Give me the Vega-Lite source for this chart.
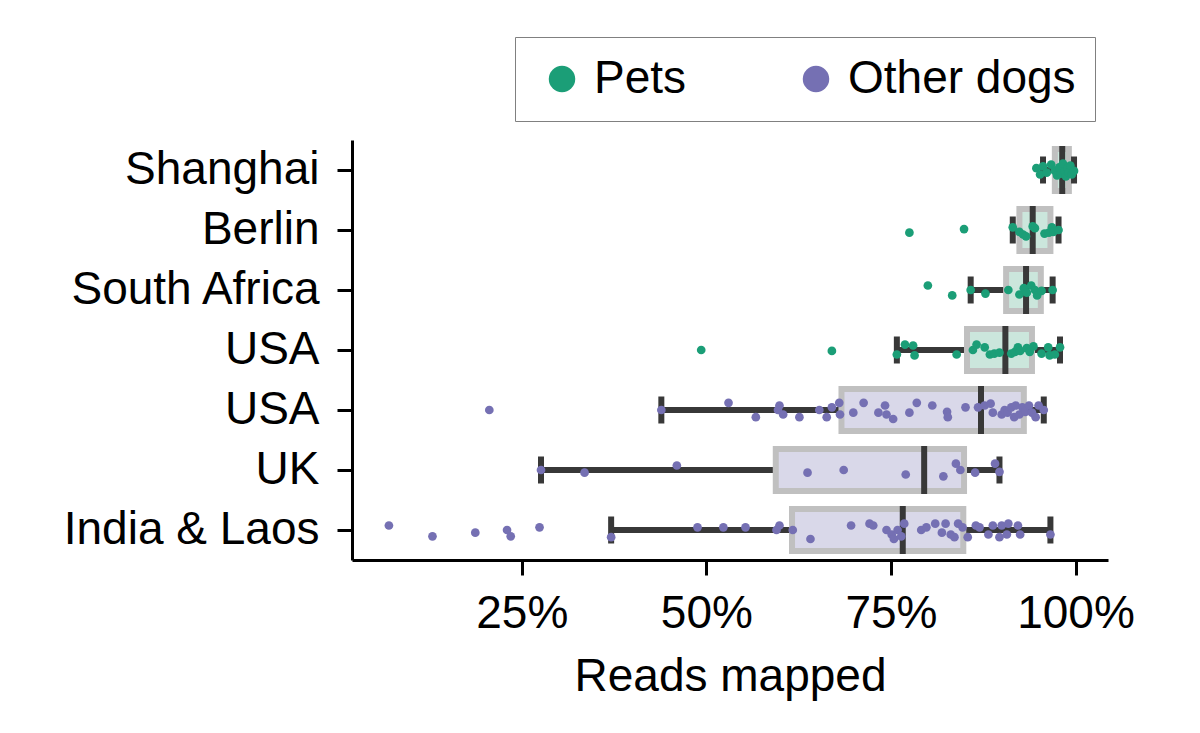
{
  "$schema": "https://vega.github.io/schema/vega-lite/v6.json",
  "width": 756,
  "height": 420,
  "autosize": {"type": "none"},
  "padding": {"left": 352, "top": 140, "right": 92, "bottom": 173},
  "background": "white",
  "config": {
    "view": {"stroke": null},
    "font": "Liberation Sans",
    "axis": {
      "domainColor": "#000000",
      "domainWidth": 3,
      "tickColor": "#000000",
      "tickWidth": 3,
      "tickSize": 15,
      "labelFont": "Liberation Sans",
      "labelFontSize": 46,
      "labelColor": "#000000",
      "labelLimit": 0,
      "titleFont": "Liberation Sans",
      "titleFontSize": 46,
      "titleFontWeight": "normal",
      "titleColor": "#000000",
      "grid": false
    },
    "legend": {
      "labelFont": "Liberation Sans",
      "labelFontSize": 46,
      "labelColor": "#000000",
      "labelLimit": 0
    }
  },
  "datasets": {
    "box": [
      {"group": "Shanghai", "type": "Pets", "lo": 0.956, "q1": 0.972, "med": 0.982, "q3": 0.991, "hi": 0.998},
      {"group": "Berlin", "type": "Pets", "lo": 0.915, "q1": 0.924, "med": 0.942, "q3": 0.966, "hi": 0.977},
      {"group": "South Africa", "type": "Pets", "lo": 0.858, "q1": 0.906, "med": 0.933, "q3": 0.953, "hi": 0.969},
      {"group": "USA (pets)", "type": "Pets", "lo": 0.758, "q1": 0.853, "med": 0.905, "q3": 0.941, "hi": 0.979},
      {"group": "USA", "type": "Other dogs", "lo": 0.439, "q1": 0.683, "med": 0.872, "q3": 0.930, "hi": 0.957},
      {"group": "UK", "type": "Other dogs", "lo": 0.276, "q1": 0.594, "med": 0.795, "q3": 0.849, "hi": 0.897},
      {"group": "India & Laos", "type": "Other dogs", "lo": 0.371, "q1": 0.616, "med": 0.766, "q3": 0.848, "hi": 0.966}
    ],
    "pts": [
      {"group": "Shanghai", "type": "Pets", "v": 0.947, "j": -0.2},
      {"group": "Shanghai", "type": "Pets", "v": 0.952, "j": 0.5},
      {"group": "Shanghai", "type": "Pets", "v": 0.956, "j": -0.4},
      {"group": "Shanghai", "type": "Pets", "v": 0.961, "j": 0.3},
      {"group": "Shanghai", "type": "Pets", "v": 0.967, "j": -0.6},
      {"group": "Shanghai", "type": "Pets", "v": 0.972, "j": 0.1},
      {"group": "Shanghai", "type": "Pets", "v": 0.975, "j": 0.6},
      {"group": "Shanghai", "type": "Pets", "v": 0.978, "j": -0.3},
      {"group": "Shanghai", "type": "Pets", "v": 0.980, "j": 0.4},
      {"group": "Shanghai", "type": "Pets", "v": 0.983, "j": -0.7},
      {"group": "Shanghai", "type": "Pets", "v": 0.985, "j": 0.2},
      {"group": "Shanghai", "type": "Pets", "v": 0.987, "j": 0.7},
      {"group": "Shanghai", "type": "Pets", "v": 0.989, "j": -0.2},
      {"group": "Shanghai", "type": "Pets", "v": 0.991, "j": 0.3},
      {"group": "Shanghai", "type": "Pets", "v": 0.993, "j": -0.5},
      {"group": "Shanghai", "type": "Pets", "v": 0.995, "j": 0.5},
      {"group": "Shanghai", "type": "Pets", "v": 0.998, "j": 0.1},
      {"group": "Berlin", "type": "Pets", "v": 0.775, "j": 0.3},
      {"group": "Berlin", "type": "Pets", "v": 0.849, "j": -0.1},
      {"group": "Berlin", "type": "Pets", "v": 0.915, "j": -0.3},
      {"group": "Berlin", "type": "Pets", "v": 0.924, "j": 0.2},
      {"group": "Berlin", "type": "Pets", "v": 0.929, "j": 0.5},
      {"group": "Berlin", "type": "Pets", "v": 0.933, "j": 0.7},
      {"group": "Berlin", "type": "Pets", "v": 0.942, "j": -0.4},
      {"group": "Berlin", "type": "Pets", "v": 0.945, "j": -0.2},
      {"group": "Berlin", "type": "Pets", "v": 0.958, "j": 0.4},
      {"group": "Berlin", "type": "Pets", "v": 0.964, "j": 0.3},
      {"group": "Berlin", "type": "Pets", "v": 0.968, "j": -0.3},
      {"group": "Berlin", "type": "Pets", "v": 0.970, "j": 0.2},
      {"group": "Berlin", "type": "Pets", "v": 0.977, "j": 0.0},
      {"group": "South Africa", "type": "Pets", "v": 0.800, "j": -0.5},
      {"group": "South Africa", "type": "Pets", "v": 0.833, "j": 0.6},
      {"group": "South Africa", "type": "Pets", "v": 0.858, "j": 0.0},
      {"group": "South Africa", "type": "Pets", "v": 0.878, "j": 0.4},
      {"group": "South Africa", "type": "Pets", "v": 0.909, "j": 0.0},
      {"group": "South Africa", "type": "Pets", "v": 0.924, "j": 0.5},
      {"group": "South Africa", "type": "Pets", "v": 0.930, "j": -0.2},
      {"group": "South Africa", "type": "Pets", "v": 0.934, "j": 0.3},
      {"group": "South Africa", "type": "Pets", "v": 0.940, "j": -0.5},
      {"group": "South Africa", "type": "Pets", "v": 0.945, "j": 0.0},
      {"group": "South Africa", "type": "Pets", "v": 0.948, "j": 0.6},
      {"group": "South Africa", "type": "Pets", "v": 0.954, "j": 0.1},
      {"group": "South Africa", "type": "Pets", "v": 0.969, "j": 0.0},
      {"group": "USA (pets)", "type": "Pets", "v": 0.493, "j": 0.0},
      {"group": "USA (pets)", "type": "Pets", "v": 0.670, "j": 0.1},
      {"group": "USA (pets)", "type": "Pets", "v": 0.758, "j": 0.5},
      {"group": "USA (pets)", "type": "Pets", "v": 0.769, "j": -0.6},
      {"group": "USA (pets)", "type": "Pets", "v": 0.780, "j": -0.5},
      {"group": "USA (pets)", "type": "Pets", "v": 0.782, "j": 0.6},
      {"group": "USA (pets)", "type": "Pets", "v": 0.839, "j": 0.5},
      {"group": "USA (pets)", "type": "Pets", "v": 0.861, "j": 0.0},
      {"group": "USA (pets)", "type": "Pets", "v": 0.866, "j": -0.6},
      {"group": "USA (pets)", "type": "Pets", "v": 0.877, "j": -0.3},
      {"group": "USA (pets)", "type": "Pets", "v": 0.884, "j": 0.5},
      {"group": "USA (pets)", "type": "Pets", "v": 0.890, "j": 0.4},
      {"group": "USA (pets)", "type": "Pets", "v": 0.897, "j": 0.3},
      {"group": "USA (pets)", "type": "Pets", "v": 0.913, "j": 0.4},
      {"group": "USA (pets)", "type": "Pets", "v": 0.918, "j": 0.2},
      {"group": "USA (pets)", "type": "Pets", "v": 0.922, "j": -0.3},
      {"group": "USA (pets)", "type": "Pets", "v": 0.925, "j": 0.1},
      {"group": "USA (pets)", "type": "Pets", "v": 0.934, "j": -0.2},
      {"group": "USA (pets)", "type": "Pets", "v": 0.938, "j": 0.2},
      {"group": "USA (pets)", "type": "Pets", "v": 0.943, "j": -0.4},
      {"group": "USA (pets)", "type": "Pets", "v": 0.954, "j": 0.4},
      {"group": "USA (pets)", "type": "Pets", "v": 0.963, "j": -0.3},
      {"group": "USA (pets)", "type": "Pets", "v": 0.965, "j": 0.6},
      {"group": "USA (pets)", "type": "Pets", "v": 0.972, "j": 0.5},
      {"group": "USA (pets)", "type": "Pets", "v": 0.979, "j": -0.3},
      {"group": "USA", "type": "Other dogs", "v": 0.206, "j": 0.0},
      {"group": "USA", "type": "Other dogs", "v": 0.439, "j": 0.0},
      {"group": "USA", "type": "Other dogs", "v": 0.530, "j": -0.8},
      {"group": "USA", "type": "Other dogs", "v": 0.567, "j": 0.8},
      {"group": "USA", "type": "Other dogs", "v": 0.597, "j": 0.0},
      {"group": "USA", "type": "Other dogs", "v": 0.599, "j": -0.5},
      {"group": "USA", "type": "Other dogs", "v": 0.604, "j": 0.5},
      {"group": "USA", "type": "Other dogs", "v": 0.626, "j": 0.8},
      {"group": "USA", "type": "Other dogs", "v": 0.653, "j": 0.0},
      {"group": "USA", "type": "Other dogs", "v": 0.663, "j": 0.8},
      {"group": "USA", "type": "Other dogs", "v": 0.670, "j": -0.3},
      {"group": "USA", "type": "Other dogs", "v": 0.680, "j": -0.8},
      {"group": "USA", "type": "Other dogs", "v": 0.681, "j": 0.5},
      {"group": "USA", "type": "Other dogs", "v": 0.699, "j": 0.3},
      {"group": "USA", "type": "Other dogs", "v": 0.713, "j": -0.8},
      {"group": "USA", "type": "Other dogs", "v": 0.733, "j": 0.3},
      {"group": "USA", "type": "Other dogs", "v": 0.742, "j": -0.5},
      {"group": "USA", "type": "Other dogs", "v": 0.744, "j": 0.5},
      {"group": "USA", "type": "Other dogs", "v": 0.753, "j": 1.0},
      {"group": "USA", "type": "Other dogs", "v": 0.775, "j": 0.3},
      {"group": "USA", "type": "Other dogs", "v": 0.785, "j": -0.8},
      {"group": "USA", "type": "Other dogs", "v": 0.806, "j": -0.5},
      {"group": "USA", "type": "Other dogs", "v": 0.826, "j": 0.2},
      {"group": "USA", "type": "Other dogs", "v": 0.827, "j": 0.8},
      {"group": "USA", "type": "Other dogs", "v": 0.851, "j": -0.3},
      {"group": "USA", "type": "Other dogs", "v": 0.868, "j": -0.3},
      {"group": "USA", "type": "Other dogs", "v": 0.877, "j": -0.5},
      {"group": "USA", "type": "Other dogs", "v": 0.885, "j": -0.7},
      {"group": "USA", "type": "Other dogs", "v": 0.888, "j": 0.3},
      {"group": "USA", "type": "Other dogs", "v": 0.900, "j": 0.5},
      {"group": "USA", "type": "Other dogs", "v": 0.904, "j": 0.0},
      {"group": "USA", "type": "Other dogs", "v": 0.908, "j": 0.3},
      {"group": "USA", "type": "Other dogs", "v": 0.913, "j": -0.3},
      {"group": "USA", "type": "Other dogs", "v": 0.917, "j": 0.8},
      {"group": "USA", "type": "Other dogs", "v": 0.919, "j": -0.5},
      {"group": "USA", "type": "Other dogs", "v": 0.924, "j": 0.5},
      {"group": "USA", "type": "Other dogs", "v": 0.928, "j": -0.3},
      {"group": "USA", "type": "Other dogs", "v": 0.932, "j": 0.2},
      {"group": "USA", "type": "Other dogs", "v": 0.937, "j": -0.5},
      {"group": "USA", "type": "Other dogs", "v": 0.941, "j": 0.3},
      {"group": "USA", "type": "Other dogs", "v": 0.946, "j": 0.8},
      {"group": "USA", "type": "Other dogs", "v": 0.950, "j": -0.5},
      {"group": "USA", "type": "Other dogs", "v": 0.957, "j": 0.0},
      {"group": "UK", "type": "Other dogs", "v": 0.276, "j": 0.0},
      {"group": "UK", "type": "Other dogs", "v": 0.335, "j": 0.3},
      {"group": "UK", "type": "Other dogs", "v": 0.460, "j": -0.5},
      {"group": "UK", "type": "Other dogs", "v": 0.637, "j": 0.3},
      {"group": "UK", "type": "Other dogs", "v": 0.686, "j": 0.0},
      {"group": "UK", "type": "Other dogs", "v": 0.770, "j": 0.5},
      {"group": "UK", "type": "Other dogs", "v": 0.821, "j": 0.7},
      {"group": "UK", "type": "Other dogs", "v": 0.838, "j": -0.7},
      {"group": "UK", "type": "Other dogs", "v": 0.844, "j": 0.0},
      {"group": "UK", "type": "Other dogs", "v": 0.864, "j": 0.3},
      {"group": "UK", "type": "Other dogs", "v": 0.891, "j": -0.7},
      {"group": "UK", "type": "Other dogs", "v": 0.897, "j": 0.2},
      {"group": "India & Laos", "type": "Other dogs", "v": 0.070, "j": -0.5},
      {"group": "India & Laos", "type": "Other dogs", "v": 0.129, "j": 0.7},
      {"group": "India & Laos", "type": "Other dogs", "v": 0.187, "j": 0.3},
      {"group": "India & Laos", "type": "Other dogs", "v": 0.230, "j": 0.0},
      {"group": "India & Laos", "type": "Other dogs", "v": 0.235, "j": 0.7},
      {"group": "India & Laos", "type": "Other dogs", "v": 0.274, "j": -0.3},
      {"group": "India & Laos", "type": "Other dogs", "v": 0.371, "j": 0.8},
      {"group": "India & Laos", "type": "Other dogs", "v": 0.488, "j": -0.3},
      {"group": "India & Laos", "type": "Other dogs", "v": 0.523, "j": -0.3},
      {"group": "India & Laos", "type": "Other dogs", "v": 0.553, "j": -0.3},
      {"group": "India & Laos", "type": "Other dogs", "v": 0.595, "j": 0.0},
      {"group": "India & Laos", "type": "Other dogs", "v": 0.599, "j": -0.5},
      {"group": "India & Laos", "type": "Other dogs", "v": 0.617, "j": 0.0},
      {"group": "India & Laos", "type": "Other dogs", "v": 0.641, "j": 1.0},
      {"group": "India & Laos", "type": "Other dogs", "v": 0.696, "j": -0.5},
      {"group": "India & Laos", "type": "Other dogs", "v": 0.721, "j": -0.7},
      {"group": "India & Laos", "type": "Other dogs", "v": 0.726, "j": -0.5},
      {"group": "India & Laos", "type": "Other dogs", "v": 0.744, "j": 0.0},
      {"group": "India & Laos", "type": "Other dogs", "v": 0.751, "j": 0.5},
      {"group": "India & Laos", "type": "Other dogs", "v": 0.754, "j": 1.0},
      {"group": "India & Laos", "type": "Other dogs", "v": 0.759, "j": 0.0},
      {"group": "India & Laos", "type": "Other dogs", "v": 0.764, "j": 0.7},
      {"group": "India & Laos", "type": "Other dogs", "v": 0.768, "j": -0.7},
      {"group": "India & Laos", "type": "Other dogs", "v": 0.791, "j": 0.0},
      {"group": "India & Laos", "type": "Other dogs", "v": 0.798, "j": -0.3},
      {"group": "India & Laos", "type": "Other dogs", "v": 0.810, "j": -0.7},
      {"group": "India & Laos", "type": "Other dogs", "v": 0.819, "j": 0.3},
      {"group": "India & Laos", "type": "Other dogs", "v": 0.824, "j": -0.7},
      {"group": "India & Laos", "type": "Other dogs", "v": 0.831, "j": 0.5},
      {"group": "India & Laos", "type": "Other dogs", "v": 0.836, "j": 0.8},
      {"group": "India & Laos", "type": "Other dogs", "v": 0.841, "j": -0.7},
      {"group": "India & Laos", "type": "Other dogs", "v": 0.847, "j": -0.3},
      {"group": "India & Laos", "type": "Other dogs", "v": 0.854, "j": 0.8},
      {"group": "India & Laos", "type": "Other dogs", "v": 0.865, "j": -0.5},
      {"group": "India & Laos", "type": "Other dogs", "v": 0.870, "j": -0.3},
      {"group": "India & Laos", "type": "Other dogs", "v": 0.882, "j": 0.5},
      {"group": "India & Laos", "type": "Other dogs", "v": 0.888, "j": -0.5},
      {"group": "India & Laos", "type": "Other dogs", "v": 0.897, "j": 0.8},
      {"group": "India & Laos", "type": "Other dogs", "v": 0.900, "j": -0.5},
      {"group": "India & Laos", "type": "Other dogs", "v": 0.907, "j": 0.5},
      {"group": "India & Laos", "type": "Other dogs", "v": 0.909, "j": -0.7},
      {"group": "India & Laos", "type": "Other dogs", "v": 0.922, "j": -0.5},
      {"group": "India & Laos", "type": "Other dogs", "v": 0.925, "j": 0.5},
      {"group": "India & Laos", "type": "Other dogs", "v": 0.966, "j": 0.5}
    ]
  },
  "encoding": {
    "y": {
      "field": "group",
      "type": "nominal",
      "title": null,
      "scale": {
        "domain": ["Shanghai", "Berlin", "South Africa", "USA (pets)", "USA", "UK", "India & Laos"],
        "paddingInner": 0,
        "paddingOuter": 0
      },
      "axis": {"labelPadding": 18, "labelExpr": "datum.label == 'USA (pets)' ? 'USA' : datum.label"}
    }
  },
  "layer": [
    {
      "data": {"name": "box"},
      "mark": {"type": "rule", "color": "#383838", "strokeWidth": 6},
      "encoding": {
        "x": {
          "field": "lo",
          "type": "quantitative",
          "title": "Reads mapped",
          "scale": {"domain": [0.02, 1.044], "nice": false, "zero": false},
          "axis": {"values": [0.25, 0.5, 0.75, 1], "format": ".0%", "labelPadding": 16, "titlePadding": 18}
        },
        "x2": {"field": "hi"}
      }
    },
    {
      "data": {"name": "box"},
      "mark": {"type": "bar", "size": 42, "stroke": "#c0c0c0", "strokeWidth": 6, "opacity": 1},
      "encoding": {
        "x": {"field": "q1", "type": "quantitative"},
        "x2": {"field": "q3"},
        "fill": {"condition": {"test": "datum.type == 'Pets'", "value": "#cbe6dc"}, "value": "#d9d8e9"}
      }
    },
    {
      "data": {"name": "box"},
      "mark": {"type": "tick", "color": "#383838", "opacity": 1, "size": 27, "thickness": 6},
      "encoding": {"x": {"field": "lo", "type": "quantitative"}}
    },
    {
      "data": {"name": "box"},
      "mark": {"type": "tick", "color": "#383838", "opacity": 1, "size": 27, "thickness": 6},
      "encoding": {"x": {"field": "hi", "type": "quantitative"}}
    },
    {
      "data": {"name": "box"},
      "mark": {"type": "tick", "color": "#383838", "opacity": 1, "size": 48, "thickness": 6},
      "encoding": {"x": {"field": "med", "type": "quantitative"}}
    },
    {
      "data": {"name": "pts"},
      "mark": {"type": "circle", "size": 76, "opacity": 1},
      "encoding": {
        "x": {"field": "v", "type": "quantitative"},
        "yOffset": {"field": "j", "type": "quantitative", "scale": {"domain": [-1, 1], "range": [21, 39]}},
        "color": {
          "field": "type",
          "type": "nominal",
          "scale": {"domain": ["Pets", "Other dogs"], "range": ["#1b9e77", "#7570b3"]},
          "legend": {
            "title": null,
            "orient": "none",
            "legendX": 163,
            "legendY": -103,
            "direction": "horizontal",
            "columns": 2,
            "symbolType": "circle",
            "symbolSize": 700,
            "symbolOpacity": 1,
            "symbolStrokeWidth": 0,
            "labelOffset": 9,
            "columnPadding": 101,
            "padding": 19,
            "symbolOffset": 5,
            "strokeColor": "#808080"
          }
        }
      }
    }
  ]
}
